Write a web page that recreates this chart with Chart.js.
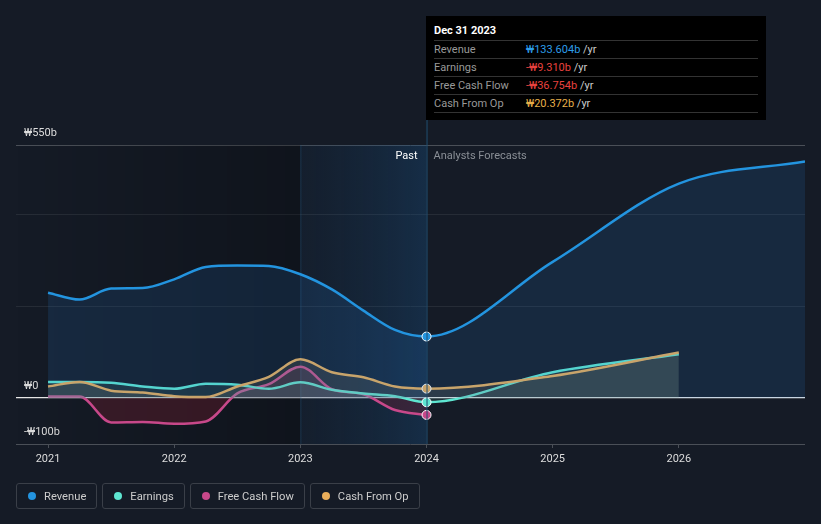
<!DOCTYPE html>
<html>
<head>
<meta charset="utf-8">
<script src="https://cdn.jsdelivr.net/npm/chart.js@4.4.1/dist/chart.umd.min.js"></script>
<style>
  body { margin: 0; background: #151b26; font-family: Roboto, "Noto Sans", sans-serif; }
  #wrap { position: relative; width: 821px; height: 524px; }
  #tip {
    position: absolute; left: 426px; top: 16px; width: 340px; height: 104px;
    background: #000; box-sizing: border-box; padding: 0 8px;
  }
  #tip .date { color: #fff; font-size: 11px; font-weight: bold; height: 24px; line-height: 30px; border-bottom: 1px solid #333; }
  #tip .row { font-size: 11px; height: 17px; line-height: 17px; border-bottom: 1px solid #333; color: #999; position: relative; }
  #tip .row span.v { position: absolute; left: 92px; }
  #tip .u { color: #ccc; }
  #legend { position: absolute; left: 16px; top: 483px; display: flex; gap: 5px; }
  .item { border: 1px solid #3a3f48; border-radius: 3px; height: 26px; box-sizing: border-box;
    display: flex; align-items: center; padding: 0 10px 0 11px; color: #ccc; font-size: 11.2px; }
  .dot { width: 8px; height: 8px; border-radius: 50%; margin-right: 8px; }
</style>
</head>
<body>
<div id="wrap">
  <canvas id="chart" width="821" height="524"></canvas>
  <div id="tip">
    <div class="date">Dec 31 2023</div>
    <div class="row">Revenue<span class="v"><span style="color:#2d9de8">₩133.604b</span> <span class="u">/yr</span></span></div>
    <div class="row">Earnings<span class="v"><span style="color:#e8423f">-₩9.310b</span> <span class="u">/yr</span></span></div>
    <div class="row">Free Cash Flow<span class="v"><span style="color:#e8423f">-₩36.754b</span> <span class="u">/yr</span></span></div>
    <div class="row">Cash From Op<span class="v"><span style="color:#e8b04a">₩20.372b</span> <span class="u">/yr</span></span></div>
  </div>
  <div id="legend"></div>
</div>
<script>
// ** data (₩ billions, x = year as decimal) **
const pastYears = [2021.0, 2021.25, 2021.5, 2021.75, 2022.0, 2022.25, 2022.5, 2022.75, 2023.0, 2023.25, 2023.5, 2023.75, 2024.0];
const revenuePast = [229, 214, 238, 239, 258, 285, 288, 287, 269, 236, 190, 148, 133.604];
const earningsPast = [35, 35, 33, 25, 20, 31, 29, 20, 34, 18, 10, 4, -9.31];
const fcfPast = [3, 3, -53, -52, -56, -51, 10, 30, 68, 19, 8, -26, -36.754];
const cfoPast = [25, 35, 16, 12, 4, 2, 25, 46, 84, 56, 45, 25, 20.372];

const revenueForecastYears = [2025.0, 2026.0, 2027.0];
const revenueForecast = [296, 466, 514];
const forecastYears = [2025.0, 2026.0];
const earningsForecast = [56, 95];
const cfoForecast = [48, 99];

const yTicks = [-100, 0, 200, 400, 550];
const yLabels = { "-100": "-₩100b", "0": "₩0", "550": "₩550b" };
const xTicks = [2021, 2022, 2023, 2024, 2025, 2026];
const nowYear = 2024.0;
const pastStart = 2023.0;

const colors = {
  revenue: "#2394df",
  earnings: "#5ee6d1",
  fcf: "#c8488a",
  cfo: "#e8ad5a",
};

function pts(xs, ys) {
  return xs.map((x, i) => ({ x: x, y: ys[i] }));
}

function markerRadius(ctx) {
  return ctx.raw && ctx.raw.x === nowYear ? 4.5 : 0;
}

const datasets = [
  {
    label: "Revenue",
    data: pts(pastYears, revenuePast).concat(pts(revenueForecastYears, revenueForecast)),
    borderColor: colors.revenue,
    backgroundColor: "rgba(35,120,200,0.16)",
    fill: "origin",
  },
  {
    label: "Cash From Op",
    data: pts(pastYears, cfoPast).concat(pts(forecastYears, cfoForecast)),
    borderColor: colors.cfo,
    backgroundColor: "rgba(200,170,120,0.14)",
    fill: "origin",
  },
  {
    label: "Earnings",
    data: pts(pastYears, earningsPast).concat(pts(forecastYears, earningsForecast)),
    borderColor: colors.earnings,
    backgroundColor: "rgba(110,200,180,0.12)",
    fill: "origin",
  },
  {
    label: "Free Cash Flow",
    data: pts(pastYears, fcfPast),
    borderColor: colors.fcf,
    fill: { target: "origin", above: "rgba(200,70,130,0.14)", below: "rgba(120,30,45,0.35)" },
  },
].map((d) => Object.assign(d, {
  borderWidth: 2.5,
  cubicInterpolationMode: "monotone",
  pointRadius: markerRadius,
  pointBackgroundColor: d.borderColor,
  pointBorderColor: "#fff",
  pointBorderWidth: 1,
}));

// background bands + labels
const bandsPlugin = {
  id: "bands",
  beforeDatasetsDraw(chart) {
    const { ctx, chartArea: a, scales: { x } } = chart;
    const xp = x.getPixelForValue(pastStart);
    const xn = x.getPixelForValue(nowYear);
    ctx.save();
    let g = ctx.createLinearGradient(a.left, 0, xp, 0);
    g.addColorStop(0, "rgba(0,0,0,0)");
    g.addColorStop(1, "rgba(0,0,0,0.25)");
    ctx.fillStyle = g;
    ctx.fillRect(a.left, a.top, xp - a.left, a.bottom - a.top);
    g = ctx.createLinearGradient(xp, 0, xn, 0);
    g.addColorStop(0, "rgba(20,60,100,0.12)");
    g.addColorStop(1, "rgba(25,85,140,0.32)");
    ctx.fillStyle = g;
    ctx.fillRect(xp, a.top, xn - xp, a.bottom - a.top);
    ctx.strokeStyle = "rgba(40,90,130,0.4)";
    ctx.lineWidth = 1;
    ctx.beginPath();
    ctx.moveTo(xp + 0.5, a.top);
    ctx.lineTo(xp + 0.5, a.bottom);
    ctx.stroke();
    ctx.restore();
  },
  afterDatasetsDraw(chart) {
    const { ctx, chartArea: a, scales: { x } } = chart;
    const xn = x.getPixelForValue(nowYear);
    ctx.save();
    ctx.strokeStyle = "#1f4d70";
    ctx.lineWidth = 1;
    ctx.beginPath();
    ctx.moveTo(xn + 0.5, 118);
    ctx.lineTo(xn + 0.5, a.bottom);
    ctx.stroke();
    ctx.font = "11px Roboto";
    ctx.textBaseline = "middle";
    ctx.textAlign = "right";
    ctx.fillStyle = "#fff";
    ctx.fillText("Past", xn - 9, a.top + 11);
    ctx.textAlign = "left";
    ctx.fillStyle = "#8a8f96";
    ctx.fillText("Analysts Forecasts", xn + 7, a.top + 11);
    ctx.restore();
  },
};

new Chart(document.getElementById("chart"), {
  type: "line",
  data: { datasets },
  plugins: [bandsPlugin],
  options: {
    responsive: false,
    animation: false,
    layout: { padding: { top: 145, left: 16, right: 16, bottom: 0 } },
    plugins: { legend: { display: false }, tooltip: { enabled: false } },
    scales: {
      x: {
        type: "linear",
        min: 2020.746,
        max: 2027.0,
        afterBuildTicks: (s) => { s.ticks = xTicks.map((v) => ({ value: v })); },
        afterFit: (s) => { s.height = 80; },
        grid: { drawOnChartArea: false, drawTicks: true, tickLength: 4, color: "#4a4f57" },
        border: { display: false },
        ticks: {
          color: "#ddd",
          font: { size: 11, family: "Roboto" },
          padding: 5,
          callback: (v) => String(v),
        },
      },
      y: {
        min: -100,
        max: 550,
        afterBuildTicks: (s) => { s.ticks = yTicks.map((v) => ({ value: v })); },
        afterFit: (s) => { s.width = 0; },
        border: { display: false },
        grid: {
          drawTicks: false,
          color: (c) => {
            const v = c.tick && c.tick.value;
            if (v === 0) return "#e8e8e8";
            if (v === 550 || v === -100) return "#4a4f57";
            return "#262c36";
          },
          lineWidth: (c) => (c.tick && c.tick.value === 0 ? 1.2 : 1),
        },
        ticks: {
          mirror: true,
          padding: 8,
          labelOffset: -12,
          color: "#ddd",
          font: { size: 11, family: "Roboto" },
          callback: (v) => yLabels[String(v)] || "",
        },
      },
    },
  },
});

// legend
const legendItems = [
  ["Revenue", colors.revenue],
  ["Earnings", colors.earnings],
  ["Free Cash Flow", colors.fcf],
  ["Cash From Op", colors.cfo],
];
document.getElementById("legend").innerHTML = legendItems
  .map(([name, c]) => `<div class="item"><span class="dot" style="background:${c}"></span>${name}</div>`)
  .join("");
</script>
</body>
</html>
